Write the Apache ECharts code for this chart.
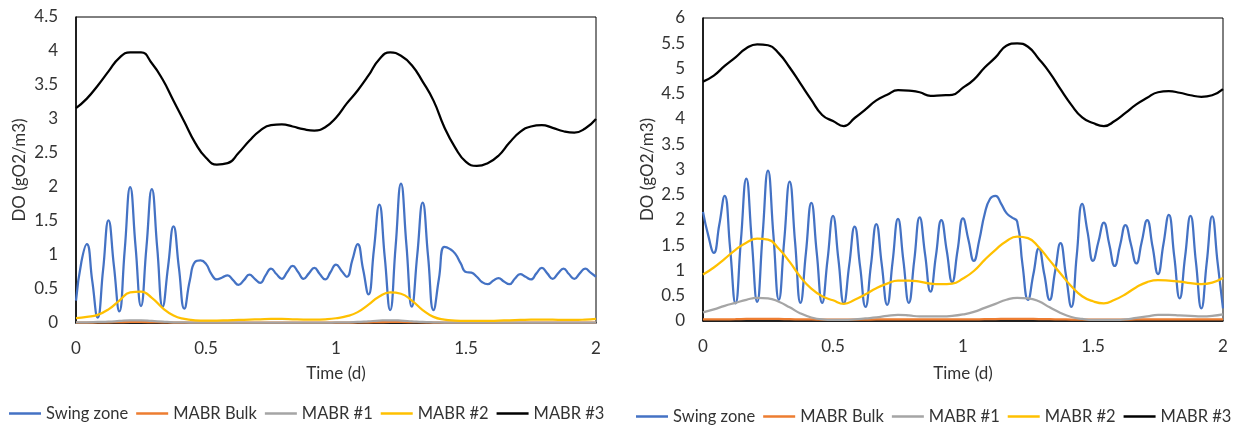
<!DOCTYPE html>
<html>
<head>
<meta charset="utf-8">
<title>DO profiles</title>
<script src="https://cdn.jsdelivr.net/npm/echarts@6/dist/echarts.min.js"></script>
<style>
  html, body { margin: 0; padding: 0; background: #ffffff; }
  #chart { width: 1244px; height: 425px; }
</style>
</head>
<body>
<div id="chart"></div>
<script>
// Sampling steps of the simulated series, in days
const FINE_STEP = 1 / 48;   // swing zone (30 min)
const COARSE_STEP = 1 / 24; // MABR tanks (1 h)

const seriesNames = ['Swing zone', 'MABR Bulk', 'MABR #1', 'MABR #2', 'MABR #3'];
const seriesColors = ['#4472C4', '#ED7D31', '#A5A5A5', '#FFC000', '#000000'];

const xTicks = [0, 0.5, 1, 1.5, 2];
const leftYTicks = [0, 0.5, 1, 1.5, 2, 2.5, 3, 3.5, 4, 4.5];
const rightYTicks = [0, 0.5, 1, 1.5, 2, 2.5, 3, 3.5, 4, 4.5, 5, 5.5, 6];

// ---- Left panel (DO, gO2/m3) ----
const leftSwing = [
  0.33, 0.90, 1.16, 0.62, 0.08, 0.78, 1.51, 0.84, 0.17, 1.08,
  2.00, 1.12, 0.25, 1.11, 1.97, 1.10, 0.24, 0.83, 1.42, 0.81,
  0.21, 0.62, 0.90, 0.92, 0.87, 0.72, 0.64, 0.67, 0.70, 0.63,
  0.56, 0.63, 0.71, 0.65, 0.59, 0.70, 0.80, 0.72, 0.65, 0.75,
  0.84, 0.75, 0.65, 0.73, 0.81, 0.72, 0.64, 0.75, 0.86, 0.77,
  0.68, 0.92, 1.16, 0.79, 0.42, 1.08, 1.74, 0.97, 0.19, 1.12,
  2.05, 1.15, 0.24, 1.00, 1.77, 0.98, 0.19, 0.65, 1.12, 1.09,
  1.02, 0.88, 0.75, 0.74, 0.68, 0.60, 0.57, 0.62, 0.66, 0.61,
  0.57, 0.65, 0.72, 0.68, 0.64, 0.73, 0.81, 0.73, 0.65, 0.73,
  0.80, 0.72, 0.65, 0.73, 0.80, 0.74, 0.68
];
const leftBulk = [
  0.005, 0.006, 0.008, 0.010, 0.013, 0.015, 0.015, 0.013, 0.010, 0.007,
  0.005, 0.005, 0.005, 0.005, 0.005, 0.005, 0.005, 0.005, 0.005, 0.005,
  0.005, 0.005, 0.005, 0.005, 0.005, 0.006, 0.008, 0.010, 0.013, 0.015,
  0.015, 0.013, 0.010, 0.007, 0.005, 0.005, 0.005, 0.005, 0.005, 0.005,
  0.005, 0.005, 0.005, 0.005, 0.005, 0.005, 0.005, 0.005, 0.005
];
const leftM1 = [
  0.010, 0.010, 0.015, 0.020, 0.030, 0.040, 0.040, 0.030, 0.020, 0.010,
  0.008, 0.006, 0.005, 0.005, 0.005, 0.005, 0.005, 0.006, 0.007, 0.007,
  0.006, 0.006, 0.006, 0.006, 0.008, 0.010, 0.015, 0.025, 0.035, 0.040,
  0.035, 0.025, 0.015, 0.010, 0.007, 0.005, 0.005, 0.005, 0.005, 0.005,
  0.006, 0.006, 0.007, 0.007, 0.007, 0.006, 0.006, 0.006, 0.007
];
const leftM2 = [
  0.07, 0.09, 0.12, 0.20, 0.33, 0.45, 0.46, 0.37, 0.22, 0.11,
  0.06, 0.04, 0.035, 0.035, 0.04, 0.045, 0.05, 0.055, 0.06, 0.06,
  0.055, 0.05, 0.05, 0.055, 0.07, 0.10, 0.16, 0.27, 0.39, 0.45,
  0.43, 0.33, 0.19, 0.09, 0.05, 0.035, 0.03, 0.03, 0.03, 0.035,
  0.04, 0.045, 0.05, 0.05, 0.05, 0.045, 0.045, 0.05, 0.06
];
const leftM3 = [
  3.16, 3.30, 3.49, 3.70, 3.90, 3.98, 3.98, 3.82, 3.58, 3.27,
  2.96, 2.65, 2.43, 2.33, 2.35, 2.50, 2.68, 2.83, 2.91, 2.92,
  2.89, 2.85, 2.83, 2.88, 3.02, 3.23, 3.42, 3.64, 3.88, 3.98,
  3.93, 3.79, 3.55, 3.27, 2.88, 2.58, 2.37, 2.31, 2.35, 2.46,
  2.65, 2.81, 2.89, 2.91, 2.87, 2.82, 2.80, 2.86, 3.00
];

// ---- Right panel (DO, gO2/m3) ----
const rightSwing = [
  2.16, 1.68, 1.35, 1.90, 2.48, 1.45, 0.35, 1.60, 2.82, 1.60,
  0.38, 1.70, 2.98, 1.70, 0.42, 1.60, 2.76, 1.56, 0.36, 1.35,
  2.34, 1.35, 0.36, 1.22, 2.08, 1.22, 0.35, 1.11, 1.87, 1.08,
  0.28, 1.10, 1.92, 1.12, 0.32, 1.17, 2.02, 1.19, 0.36, 1.20,
  2.05, 1.32, 0.58, 1.29, 2.00, 1.39, 0.77, 1.40, 2.03, 1.61,
  1.19, 1.60, 2.12, 2.42, 2.48, 2.33, 2.14, 2.05, 1.97, 1.10,
  0.42, 0.93, 1.44, 0.93, 0.42, 0.98, 1.54, 0.91, 0.28, 1.30,
  2.32, 1.76, 1.19, 1.57, 1.95, 1.52, 1.09, 1.50, 1.90, 1.52,
  1.14, 1.57, 2.00, 1.47, 0.93, 1.52, 2.10, 1.28, 0.45, 1.27,
  2.08, 1.17, 0.25, 1.16, 2.07, 1.16, 0.25
];
const rightBulk = [
  0.030, 0.031, 0.033, 0.036, 0.040, 0.042, 0.042, 0.040, 0.036, 0.032,
  0.030, 0.028, 0.027, 0.027, 0.028, 0.029, 0.030, 0.031, 0.031, 0.031,
  0.030, 0.030, 0.030, 0.030, 0.031, 0.033, 0.036, 0.039, 0.042, 0.043,
  0.042, 0.039, 0.035, 0.031, 0.029, 0.027, 0.027, 0.027, 0.028, 0.029,
  0.030, 0.031, 0.031, 0.031, 0.030, 0.030, 0.030, 0.030, 0.031
];
const rightM1 = [
  0.17, 0.23, 0.30, 0.36, 0.42, 0.46, 0.45, 0.38, 0.27, 0.15,
  0.07, 0.03, 0.02, 0.02, 0.03, 0.05, 0.07, 0.10, 0.12, 0.11,
  0.09, 0.09, 0.09, 0.10, 0.13, 0.18, 0.26, 0.34, 0.42, 0.46,
  0.45, 0.39, 0.27, 0.16, 0.08, 0.04, 0.02, 0.02, 0.02, 0.03,
  0.06, 0.09, 0.12, 0.12, 0.11, 0.10, 0.09, 0.10, 0.13
];
const rightM2 = [
  0.92, 1.06, 1.23, 1.41, 1.55, 1.63, 1.61, 1.43, 1.17, 0.87,
  0.64, 0.49, 0.41, 0.34, 0.42, 0.53, 0.65, 0.74, 0.80, 0.80,
  0.78, 0.74, 0.73, 0.74, 0.84, 0.99, 1.21, 1.41, 1.58, 1.67,
  1.64, 1.46, 1.20, 0.94, 0.69, 0.49, 0.39, 0.35, 0.42, 0.53,
  0.67, 0.77, 0.81, 0.80, 0.78, 0.75, 0.73, 0.76, 0.85
];
const rightM3 = [
  4.74, 4.86, 5.05, 5.22, 5.40, 5.48, 5.46, 5.30, 5.02, 4.70,
  4.38, 4.08, 3.96, 3.86, 4.02, 4.19, 4.37, 4.48, 4.57, 4.56,
  4.53, 4.46, 4.47, 4.48, 4.62, 4.78, 5.02, 5.22, 5.45, 5.50,
  5.43, 5.19, 4.92, 4.59, 4.28, 4.03, 3.92, 3.86, 3.96, 4.12,
  4.29, 4.42, 4.53, 4.55, 4.52, 4.47, 4.44, 4.47, 4.59
];

// Pair each value with its simulation time (d)
function timed(values, step) {
  return values.map((v, i) => [i * step, v]);
}

const FONT = 'Lato';
const FONT_SIZE = 17;
const LEGEND_FONT_SIZE = 16.5;
const TEXT_COLOR = '#333333';

function xAxisFor(gridIndex, gap) {
  return {
    type: 'value', gridIndex: gridIndex,
    min: xTicks[0], max: xTicks[xTicks.length - 1], interval: xTicks[1] - xTicks[0],
    name: 'Time (d)', nameLocation: 'middle', nameGap: gap,
    nameTextStyle: { fontFamily: FONT, fontSize: FONT_SIZE, color: TEXT_COLOR },
    axisLine: { show: true, lineStyle: { color: '#000000', width: 1.5 } },
    axisTick: { show: false },
    splitLine: { show: false },
    axisLabel: { fontFamily: FONT, fontSize: FONT_SIZE, color: TEXT_COLOR, margin: 17 }
  };
}

function yAxisFor(gridIndex, ticks, gap) {
  return {
    type: 'value', gridIndex: gridIndex,
    min: ticks[0], max: ticks[ticks.length - 1], interval: ticks[1] - ticks[0],
    name: 'DO (gO2/m3)', nameLocation: 'middle', nameGap: gap,
    nameTextStyle: { fontFamily: FONT, fontSize: FONT_SIZE, color: TEXT_COLOR },
    axisLine: { show: true, lineStyle: { color: '#000000', width: 1.5 } },
    axisTick: { show: false },
    splitLine: { show: false },
    axisLabel: { fontFamily: FONT, fontSize: FONT_SIZE, color: TEXT_COLOR, margin: 18 }
  };
}

function lineSeries(name, idx, values, step, axisIndex) {
  return {
    name: name, type: 'line',
    xAxisIndex: axisIndex, yAxisIndex: axisIndex,
    data: timed(values, step),
    smooth: 0.5, symbol: 'none', silent: true,
    lineStyle: { color: seriesColors[idx], width: 2.25 },
    itemStyle: { color: seriesColors[idx] }
  };
}

function legendAt(left, top) {
  return {
    data: seriesNames, left: left, top: top, orient: 'horizontal',
    width: 640, padding: 0,
    icon: 'rect', itemWidth: 32, itemHeight: 2.5, itemGap: 8,
    selectedMode: false,
    textStyle: { fontFamily: FONT, fontSize: LEGEND_FONT_SIZE, color: TEXT_COLOR }
  };
}

const leftData = [leftSwing, leftBulk, leftM1, leftM2, leftM3];
const rightData = [rightSwing, rightBulk, rightM1, rightM2, rightM3];

const series = [];
seriesNames.forEach((n, k) => {
  series.push(lineSeries(n, k, leftData[k], k === 0 ? FINE_STEP : COARSE_STEP, 0));
});
seriesNames.forEach((n, k) => {
  series.push(lineSeries(n, k, rightData[k], k === 0 ? FINE_STEP : COARSE_STEP, 1));
});

const chart = echarts.init(document.getElementById('chart'), null, { renderer: 'canvas' });
chart.setOption({
  animation: false,
  backgroundColor: '#ffffff',
  grid: [
    { left: 76, top: 17, width: 520, height: 306, show: true, borderColor: '#000000', borderWidth: 1 },
    { left: 703, top: 18, width: 520, height: 303, show: true, borderColor: '#000000', borderWidth: 1 }
  ],
  xAxis: [xAxisFor(0, 42), xAxisFor(1, 44)],
  yAxis: [yAxisFor(0, leftYTicks, 48), yAxisFor(1, rightYTicks, 47)],
  legend: [legendAt(9, 405), legendAt(636, 408)],
  series: series
});
</script>
</body>
</html>
